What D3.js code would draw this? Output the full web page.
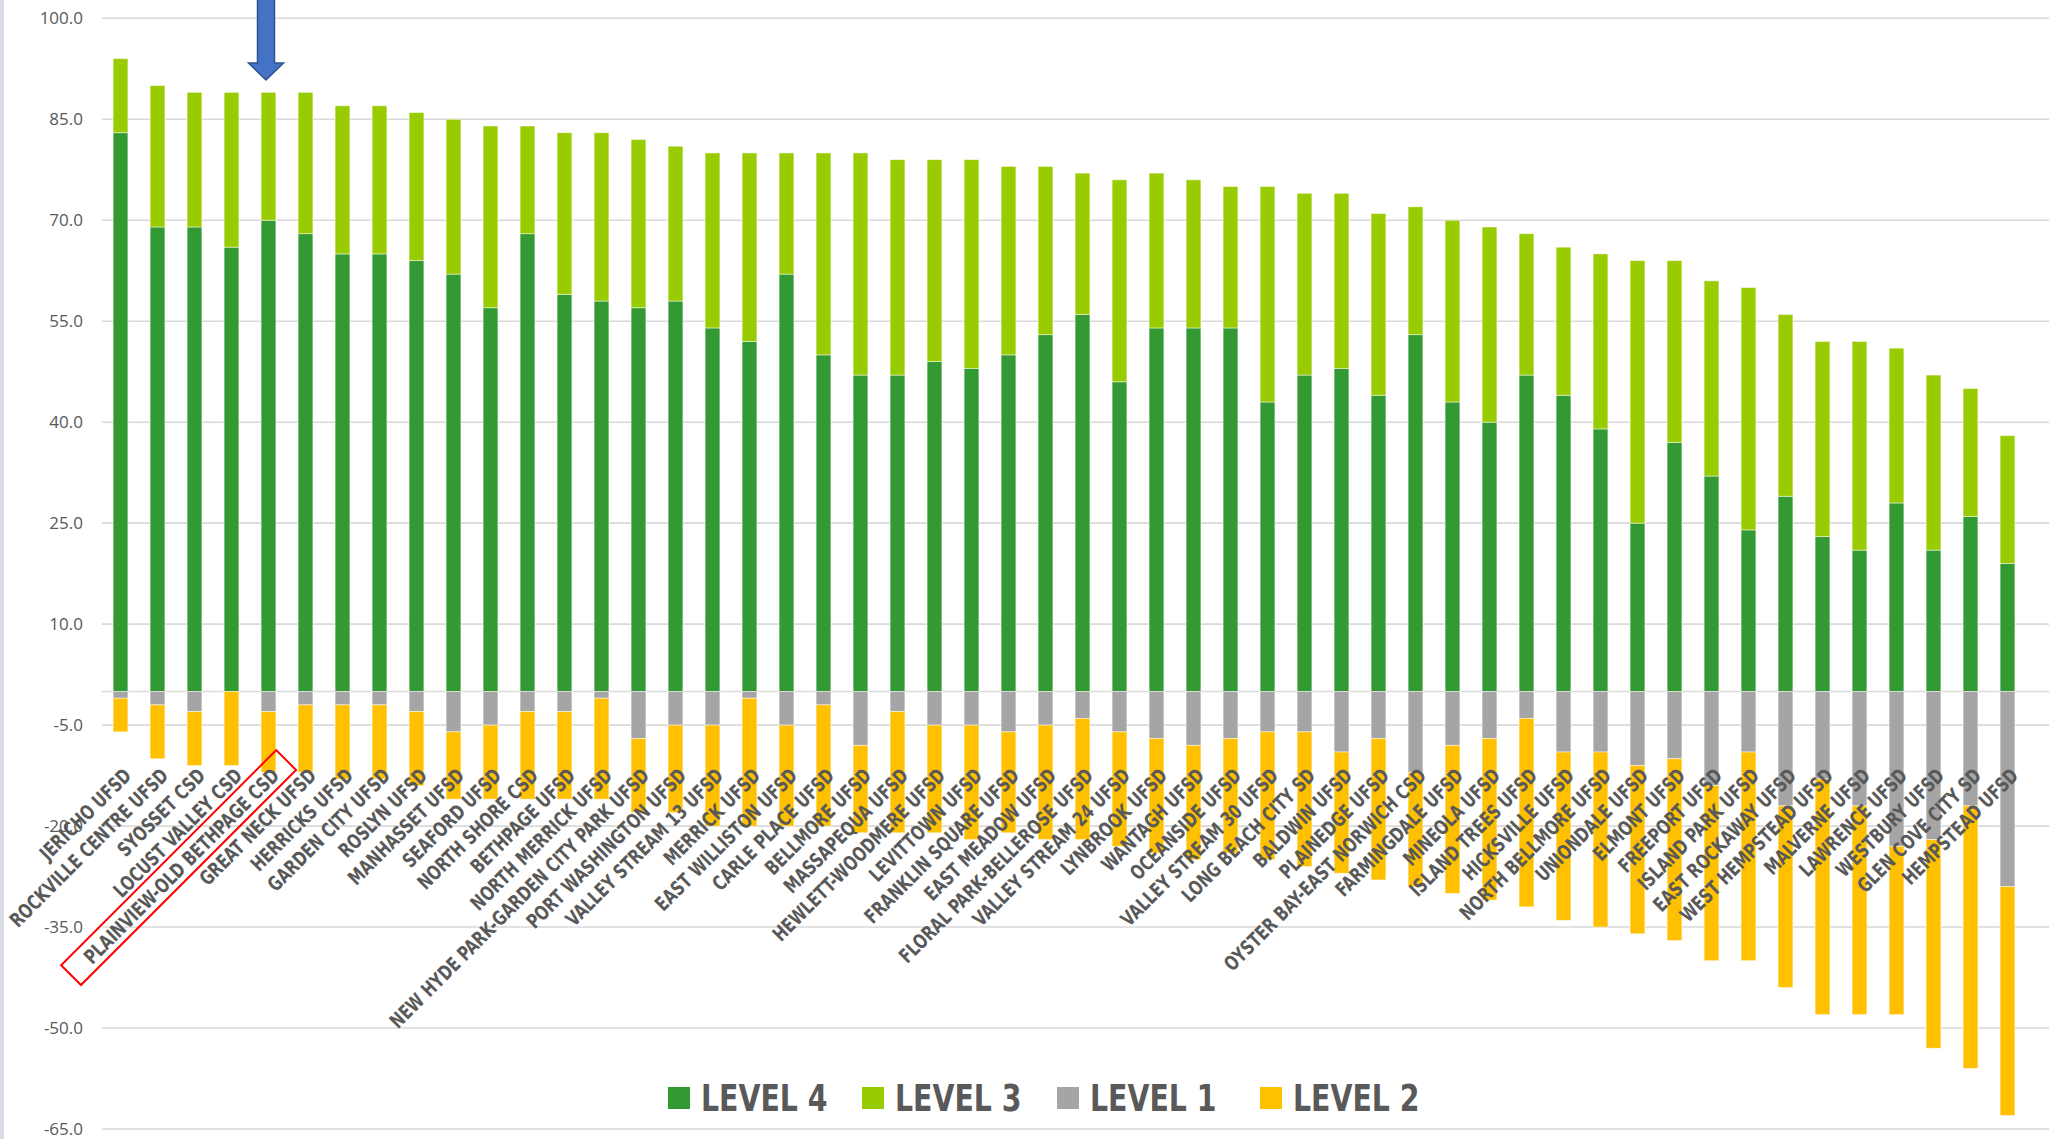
<!DOCTYPE html>
<html>
<head>
<meta charset="utf-8">
<script src="https://cdn.jsdelivr.net/npm/d3@7"></script>
<style>
  html, body { margin: 0; padding: 0; background: #fff; }
  svg { display: block; }
</style>
</head>
<body>
<script>
const categories = [
  "JERICHO UFSD", "ROCKVILLE CENTRE UFSD", "SYOSSET CSD", "LOCUST VALLEY CSD",
  "PLAINVIEW-OLD BETHPAGE CSD", "GREAT NECK UFSD", "HERRICKS UFSD", "GARDEN CITY UFSD",
  "ROSLYN UFSD", "MANHASSET UFSD", "SEAFORD UFSD", "NORTH SHORE CSD", "BETHPAGE UFSD",
  "NORTH MERRICK UFSD", "NEW HYDE PARK-GARDEN CITY PARK UFSD", "PORT WASHINGTON UFSD",
  "VALLEY STREAM 13 UFSD", "MERRICK UFSD", "EAST WILLISTON UFSD", "CARLE PLACE UFSD",
  "BELLMORE UFSD", "MASSAPEQUA UFSD", "HEWLETT-WOODMERE UFSD", "LEVITTOWN UFSD",
  "FRANKLIN SQUARE UFSD", "EAST MEADOW UFSD", "FLORAL PARK-BELLEROSE UFSD",
  "VALLEY STREAM 24 UFSD", "LYNBROOK UFSD", "WANTAGH UFSD", "OCEANSIDE UFSD",
  "VALLEY STREAM 30 UFSD", "LONG BEACH CITY SD", "BALDWIN UFSD", "PLAINEDGE UFSD",
  "OYSTER BAY-EAST NORWICH CSD", "FARMINGDALE UFSD", "MINEOLA UFSD", "ISLAND TREES UFSD",
  "HICKSVILLE UFSD", "NORTH BELLMORE UFSD", "UNIONDALE UFSD", "ELMONT UFSD",
  "FREEPORT UFSD", "ISLAND PARK UFSD", "EAST ROCKAWAY UFSD", "WEST HEMPSTEAD UFSD",
  "MALVERNE UFSD", "LAWRENCE UFSD", "WESTBURY UFSD", "GLEN COVE CITY SD", "HEMPSTEAD UFSD"
];

const level4 = [83, 69, 69, 66, 70, 68, 65, 65, 64, 62, 57, 68, 59, 58, 57, 58, 54, 52, 62, 50,
  47, 47, 49, 48, 50, 53, 56, 46, 54, 54, 54, 43, 47, 48, 44, 53, 43, 40, 47, 44,
  39, 25, 37, 32, 24, 29, 23, 21, 28, 21, 26, 19];
const level3 = [11, 21, 20, 23, 19, 21, 22, 22, 22, 23, 27, 16, 24, 25, 25, 23, 26, 28, 18, 30,
  33, 32, 30, 31, 28, 25, 21, 30, 23, 22, 21, 32, 27, 26, 27, 19, 27, 29, 21, 22,
  26, 39, 27, 29, 36, 27, 29, 31, 23, 26, 19, 19];
const level1 = [1, 2, 3, 0, 3, 2, 2, 2, 3, 6, 5, 3, 3, 1, 7, 5, 5, 1, 5, 2,
  8, 3, 5, 5, 6, 5, 4, 6, 7, 8, 7, 6, 6, 9, 7, 12, 8, 7, 4, 9,
  9, 11, 10, 14, 9, 17, 13, 17, 23, 22, 17, 29];
const level2 = [5, 8, 8, 11, 9, 10, 11, 11, 11, 10, 11, 13, 13, 15, 11, 13, 15, 19, 15, 18,
  13, 18, 16, 17, 15, 17, 18, 17, 17, 17, 17, 19, 20, 18, 21, 17, 22, 24, 28, 25,
  26, 25, 27, 26, 31, 27, 35, 31, 25, 31, 39, 34];

const yTicks = [100, 85, 70, 55, 40, 25, 10, -5, -20, -35, -50, -65];
const highlight = "PLAINVIEW-OLD BETHPAGE CSD";

const series = [
  { key: "L4", name: "LEVEL 4", color: "#339933", values: level4, sign: 1 },
  { key: "L3", name: "LEVEL 3", color: "#99CC00", values: level3, sign: 1 },
  { key: "L1", name: "LEVEL 1", color: "#A5A5A5", values: level1, sign: -1 },
  { key: "L2", name: "LEVEL 2", color: "#FFC000", values: level2, sign: -1 }
];

const width = 2049, height = 1139;
const textColor = "#595959";
const labelFont = "'Liberation Sans Narrow', 'Arial Narrow', 'DejaVu Sans Condensed', sans-serif";
const squeeze = 0.83; // the original font (Calibri) is narrower than what we have

const rows = categories.map((name, i) => {
  const r = { name };
  series.forEach(s => r[s.key] = s.sign * s.values[i]);
  return r;
});

const svg = d3.select("body").append("svg")
  .attr("width", width).attr("height", height);

svg.append("rect").attr("width", width).attr("height", height).attr("fill", "#fff");
svg.append("rect").attr("width", 4).attr("height", height).attr("fill", "#D9DCE6");

const x = d3.scaleBand()
  .domain(categories)
  .range([102, 2026])
  .paddingInner(0.6)
  .paddingOuter(0.3);

const y = d3.scaleLinear().domain([-65, 100]).range([1129, 18.3]);

// grid lines + zero line
svg.append("g").selectAll("line")
  .data(yTicks.concat([0]))
  .enter()
  .append("line")
  .attr("x1", 102).attr("x2", width)
  .attr("y1", d => y(d)).attr("y2", d => y(d))
  .attr("stroke", "#D9D9D9")
  .attr("stroke-width", 1.6);

// y tick labels
svg.append("g").selectAll("text")
  .data(yTicks)
  .enter()
  .append("text")
  .attr("x", 83)
  .attr("y", d => y(d))
  .attr("dy", "0.35em")
  .attr("text-anchor", "end")
  .attr("font-family", "'Open Sans', sans-serif")
  .attr("font-size", "17px")
  .attr("fill", textColor)
  .text(d => d.toFixed(1));

// stacked bars
const stack = d3.stack()
  .keys(series.map(s => s.key))
  .offset(d3.stackOffsetDiverging);

const layers = svg.append("g").selectAll("g")
  .data(stack(rows))
  .enter()
  .append("g")
  .attr("fill", (d, i) => series[i].color);

layers.selectAll("rect")
  .data(d => d)
  .enter()
  .append("rect")
  .attr("x", d => x(d.data.name))
  .attr("width", x.bandwidth())
  .attr("y", d => y(Math.max(d[0], d[1])))
  .attr("height", d => Math.abs(y(d[0]) - y(d[1])))
  .attr("stroke", "rgba(255,255,255,0.6)")
  .attr("stroke-width", 0.8);

// category labels (rotated)
const labelY = 777;
const labels = svg.append("g").selectAll("g")
  .data(categories)
  .enter()
  .append("g")
  .attr("transform", d => "translate(" + (x(d) + x.bandwidth() / 2 + 12) + "," + labelY + ") rotate(-45)");

labels.append("text")
  .attr("text-anchor", "end")
  .attr("transform", "scale(" + squeeze + ",1)")
  .attr("font-family", labelFont)
  .attr("font-weight", "bold")
  .attr("font-size", "20px")
  .attr("fill", textColor)
  .text(d => d);

// red box around highlighted label
labels.filter(d => d === highlight).each(function() {
  const g = d3.select(this);
  const w = g.select("text").node().getComputedTextLength() * squeeze;
  g.insert("rect", "text")
    .attr("x", -w - 22)
    .attr("y", -22)
    .attr("width", w + 38)
    .attr("height", 28)
    .attr("fill", "none")
    .attr("stroke", "#FF0000")
    .attr("stroke-width", 2);
});

// blue arrow pointing at highlighted bar
const ax = x(highlight) + x.bandwidth() / 2 - 2.5;
svg.append("path")
  .attr("d", d3.line()([
    [ax - 8.5, -2], [ax + 8.5, -2], [ax + 8.5, 63], [ax + 17.5, 63],
    [ax, 80], [ax - 17.5, 63], [ax - 8.5, 63]
  ]) + "Z")
  .attr("fill", "#4472C4")
  .attr("stroke", "#2F528F")
  .attr("stroke-width", 1.5);

// legend
const legendX = [668, 862, 1057, 1260];
const legend = svg.append("g").selectAll("g")
  .data(series)
  .enter()
  .append("g")
  .attr("transform", (d, i) => "translate(" + legendX[i] + ",1087)");

legend.append("rect")
  .attr("width", 22).attr("height", 22)
  .attr("fill", d => d.color);

legend.append("text")
  .attr("transform", "translate(33,24) scale(" + squeeze + ",1)")
  .attr("font-family", labelFont)
  .attr("font-weight", "bold")
  .attr("font-size", "38px")
  .attr("fill", textColor)
  .text(d => d.name);
</script>
</body>
</html>
